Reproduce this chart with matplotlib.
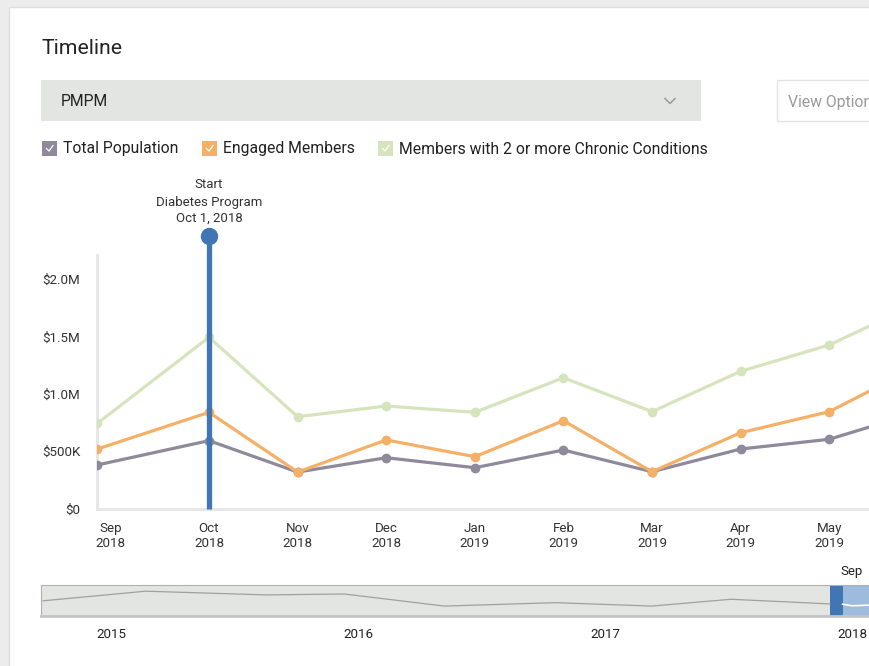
import numpy as np
import matplotlib.pyplot as plt
from matplotlib.patches import Rectangle

plt.rcParams['font.family'] = ['Roboto', 'DejaVu Sans']

# main chart data ($M per month)
month_labels = ['Sep\n2018', 'Oct\n2018', 'Nov\n2018', 'Dec\n2018', 'Jan\n2019',
                'Feb\n2019', 'Mar\n2019', 'Apr\n2019', 'May\n2019', 'Jun\n2019']
x_pts = [-0.26, 1, 2, 3, 4, 5, 6, 7, 8, 9]
label_pos = [-0.11, 1, 2, 3, 4, 5, 6, 7, 8, 9]
total_pop = [0.380, 0.592, 0.318, 0.443, 0.356, 0.510, 0.321, 0.519, 0.604, 0.84]
engaged = [0.519, 0.839, 0.318, 0.598, 0.452, 0.766, 0.321, 0.661, 0.845, 1.24]
chronic = [0.743, 1.494, 0.801, 0.894, 0.839, 1.141, 0.845, 1.197, 1.427, 1.79]

y_ticks = [0, 0.5, 1.0, 1.5, 2.0]
y_labels = ['$0', '$500K', '$1.0M', '$1.5M', '$2.0M']

event_x = 1
event_lines = ['Start', 'Diabetes Program', 'Oct 1, 2018']

# navigator data
nav_years = [2014.725, 2015.14, 2015.63, 2015.945, 2016.35, 2016.8, 2017.19, 2017.51, 2017.91]
nav_vals = [0.49, 0.80, 0.68, 0.71, 0.32, 0.43, 0.32, 0.54, 0.39]
sel_years = [2017.962, 2018.0, 2018.07]
sel_vals = [0.38, 0.33, 0.35]
year_ticks = [2015, 2016, 2017, 2018]

GRAY = '#8f8a9b'
ORANGE = '#f5b067'
GREEN = '#d6e4bd'
BLUE = '#3f76b3'
W, H = 869, 666

fig = plt.figure(figsize=(W / 100, H / 100), dpi=100)
fig.patch.set_facecolor('#ececec')

# page chrome drawn in pixel coordinates
ui = fig.add_axes([0, 0, 1, 1], zorder=0)
ui.set_xlim(0, W)
ui.set_ylim(H, 0)
ui.axis('off')
ui.add_patch(Rectangle((9, 7), W, H, facecolor='white', edgecolor='#dedede', lw=1))
ui.text(41, 48, 'Timeline', fontsize=15.3, color='#222222', va='center')

# dropdown
ui.add_patch(Rectangle((41, 80), 660, 41, facecolor='#e3e5e2', edgecolor='none'))
ui.text(61, 102, 'PMPM', fontsize=11.3, color='#222222', va='center')
ui.plot([665, 670, 675], [98.5, 103.5, 98.5], color='#9a9a9a', lw=1.1)
ui.add_patch(Rectangle((777, 80), 120, 41, facecolor='white', edgecolor='#e3e3e3', lw=1))
ui.text(788, 102, 'View Options', fontsize=11.3, color='#9a9a9a', va='center', clip_on=True)

# legend with checkboxes
legend_items = [(42, 'Total Population', GRAY), (202, 'Engaged Members', ORANGE),
                (378, 'Members with 2 or more Chronic Conditions', GREEN)]
for lx, name, col in legend_items:
    ui.add_patch(Rectangle((lx, 141), 15, 15, facecolor=col, edgecolor='none'))
    ui.plot([lx + 4.5, lx + 7, lx + 11], [148.5, 151, 145.5], color='white', lw=0.9)
    ui.text(lx + 21, 149, name, fontsize=11.3, color='#222222', va='center')

# main chart
ax = fig.add_axes([97 / W, (H - 508.5) / H, (W - 97) / W, (508.5 - 255) / H], zorder=2)
ax.set_facecolor('none')
ax.plot(x_pts, total_pop, color=GRAY, lw=2.3, marker='o', ms=6, zorder=3)
ax.plot(x_pts, engaged, color=ORANGE, lw=2.3, marker='o', ms=6, zorder=3)
ax.plot(x_pts, chronic, color=GREEN, lw=2.3, marker='o', ms=6, zorder=3)

ax.set_yticks(y_ticks)
ax.set_yticklabels(y_labels)
ax.set_xticks(label_pos)
ax.set_xticklabels(month_labels)
ax.set_xlim(-0.264, 8.449)
ax.set_ylim(0, 2.212)

# program start marker
top = 2.378
ax.plot([event_x, event_x], [0, top], color=BLUE, lw=3.8, zorder=5, clip_on=False,
        solid_capstyle='butt')
ax.plot([event_x], [top], 'o', color=BLUE, ms=11.5, zorder=6, clip_on=False)
for txt, dy in zip(event_lines, [51, 33, 18]):
    ax.annotate(txt, xy=(event_x, top), xytext=(0, dy * 0.72), textcoords='offset points',
                ha='center', va='center', fontsize=9.5, color='#333333', annotation_clip=False)

ax.tick_params(axis='y', length=0, pad=12, labelsize=9.6, labelcolor='#333333')
ax.tick_params(axis='x', length=0, pad=9.5, labelsize=9.6, labelcolor='#333333')
for s in ['top', 'right']:
    ax.spines[s].set_visible(False)
for s in ['left', 'bottom']:
    ax.spines[s].set_color('#e6e6e6')
    ax.spines[s].set_linewidth(2)

# navigator
nav = fig.add_axes([41 / W, (H - 616) / H, (W - 41) / W, 31 / H], zorder=2)
nav.set_facecolor('#e3e5e2')
nav.plot(nav_years, nav_vals, color='#a0a0a0', lw=0.9)
nav.axvspan(2017.913, 2017.962, color=BLUE, lw=0)
nav.axvspan(2017.962, 2018.2, color='#9dbbdd', lw=0)
nav.plot(sel_years, sel_vals, color='white', lw=1.2)
nav.set_yticks([])
nav.set_xticks(year_ticks)
nav.set_xticklabels([str(y) for y in year_ticks])
nav.set_xlim(2014.717, 2018.069)
nav.set_ylim(0, 1)
nav.tick_params(axis='x', length=0, pad=9, labelsize=9.6, labelcolor='#222222')
nav.spines['top'].set_color('#b0b0b0')
nav.spines['top'].set_linewidth(0.8)
nav.spines['bottom'].set_color('#c4c4c4')
nav.spines['bottom'].set_linewidth(2)
nav.spines['left'].set_color('#b0b0b0')
nav.spines['left'].set_linewidth(0.8)
nav.spines['right'].set_visible(False)
nav.text(2018.0, 1.42, 'Sep', transform=nav.transData, ha='center', va='center',
         fontsize=9.5, color='#222222', clip_on=False)

fig.savefig('out.png', dpi=100, facecolor=fig.get_facecolor())
